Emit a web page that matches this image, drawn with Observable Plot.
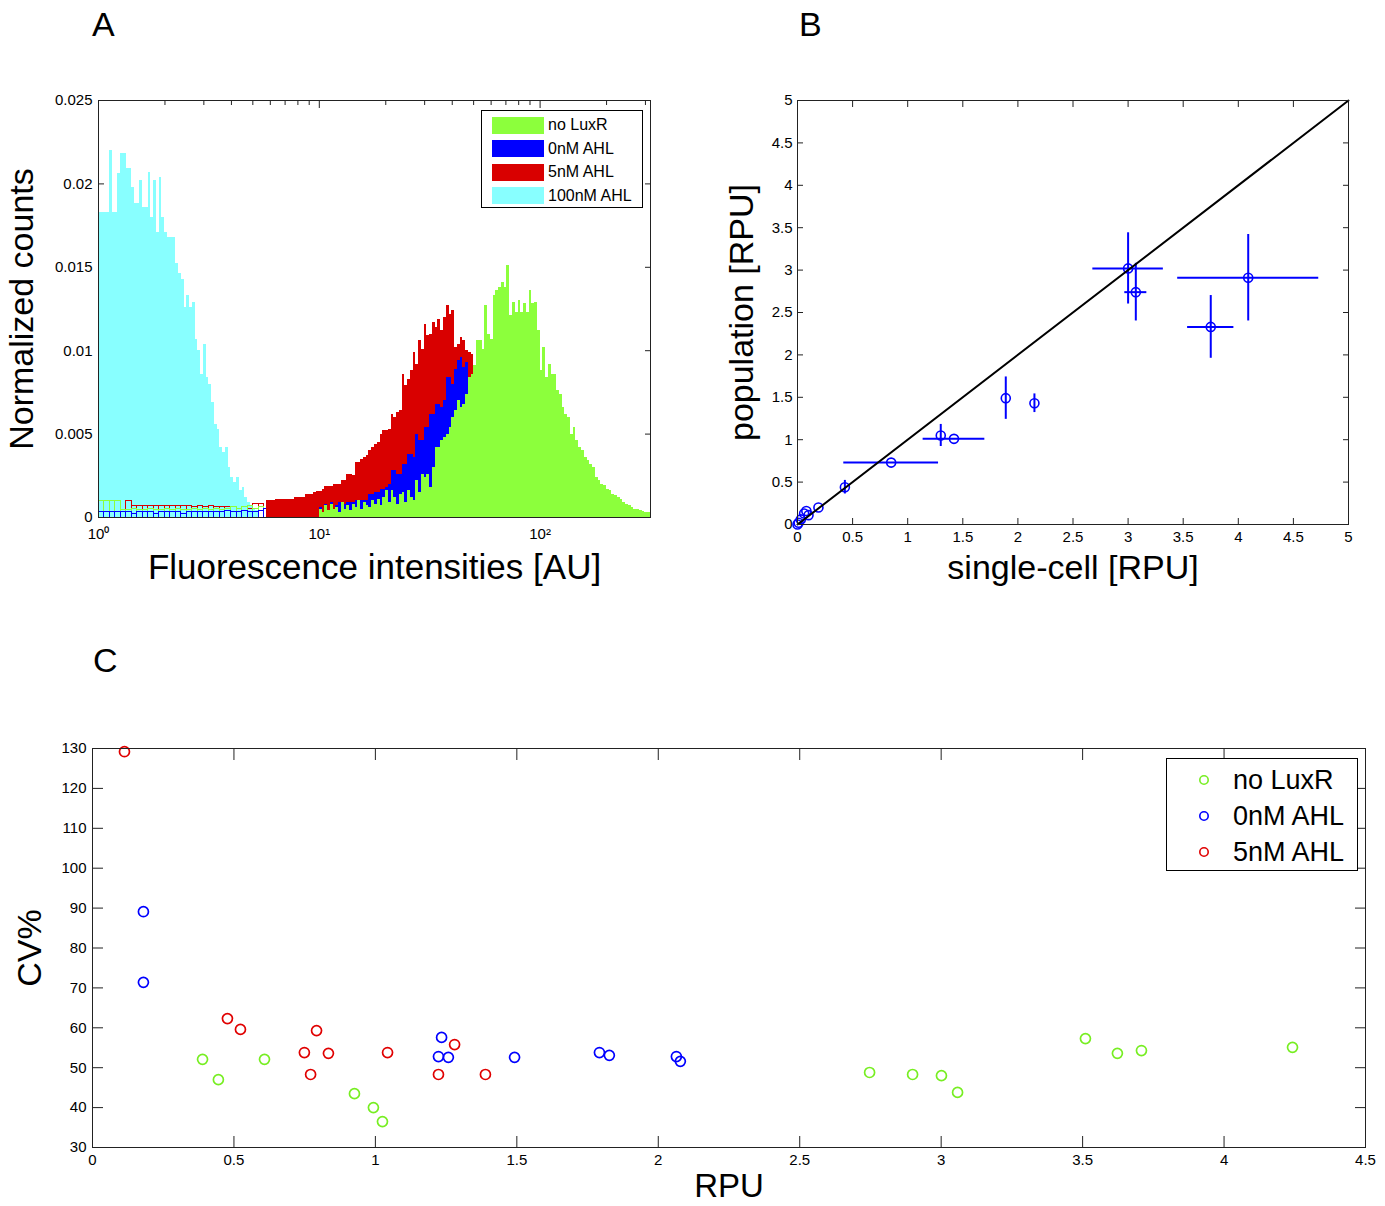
<!DOCTYPE html>
<html>
<head>
<meta charset="utf-8">
<script src="https://cdn.jsdelivr.net/npm/d3@7"></script>
<script src="https://cdn.jsdelivr.net/npm/@observablehq/plot@0.6"></script>
<style>
  body { margin: 0; background: #fff; }
  #page { position: relative; width: 1385px; height: 1206px; font-family: "Liberation Sans", Arial, Helvetica, sans-serif; color: #000; overflow: hidden; }
  .letter { position: absolute; font-size: 34px; line-height: 1; }
  .legend { position: absolute; border: 1px solid #000; background: #fff; box-sizing: border-box; }
  .row { position: absolute; left: 0; display: flex; align-items: center; white-space: nowrap; }
</style>
</head>
<body>
<div id="page"></div>
<script>
// ---------------- DATA ----------------
// Panel A: histograms, heights in units of 0.001 (normalized counts), log10-spaced bins
const binStep = 0.0125;          // bin width in decades
const lowBinStep = 0.025;        // bin width of the sparse low-level bins
const cyanStartExp = 0;          // 100nM AHL
const cyanCounts = [18.3,18.3,18.3,18.3,22.0,18.3,18.3,20.6,21.8,21.8,20.9,20.9,19.8,18.8,18.8,20.2,18.6,18.6,20.7,18.0,20.2,17.1,20.4,18.0,17.1,16.8,16.8,16.8,15.2,14.6,14.25,12.6,13.3,12.6,12.9,10.7,10.0,8.6,10.4,8.4,8.0,6.9,5.6,5.3,4.2,3.9,4.2,3.0,2.4,2.1,2.4,1.6,1.8,1.2,0.9,0.7,0.5,0.4];
const redStartExp = 0.7625;      // 5nM AHL
const redCounts = [1.0,1.0,1.0,1.1,1.1,1.1,1.1,1.1,1.1,1.1,1.2,1.2,1.2,1.2,1.4,1.4,1.4,1.5,1.56,1.56,1.7,1.86,1.86,1.86,2.0,2.0,2.0,2.2,2.2,2.6,2.6,2.5,3.3,3.3,3.5,3.6,3.7,4.0,4.2,4.4,4.5,5.0,5.2,5.2,5.3,6.2,6.0,6.3,6.4,8.6,7.9,8.3,8.8,9.9,9.2,10.6,10.1,11.6,10.9,11.0,11.7,11.4,11.9,11.2,12.0,12.7,12.2,12.4,10.2,10.4,10.8,10.6,10.0,9.9,9.8];
const blueStartExp = 1.0;        // 0nM AHL
const blueCounts = [0.6,0.3,0.8,0.4,0.9,0.5,0.7,0.9,0.9,0.8,0.9,0.9,0.9,1.0,1.0,1.0,1.0,1.0,1.4,1.4,1.5,1.5,1.7,1.7,1.8,2.0,2.8,2.8,2.6,2.6,3.2,3.2,3.8,3.8,3.6,5.0,4.6,4.6,5.4,5.4,6.2,6.2,6.8,6.8,6.6,7.0,8.4,8.4,8.0,8.9,9.4,9.6,9.0,9.3];
const greenStartExp = 1.0;       // no LuxR
const greenCounts = [0.5,0.3,0.7,0.4,0.8,0.5,0.6,0.3,0.9,0.5,0.7,0.4,0.8,0.6,1.0,0.5,0.9,0.7,0.6,1.0,0.8,1.1,0.7,1.2,
  1.6,0.9,1.6,1.2,0.8,1.4,1.5,0.9,1.6,1.2,1.0,2.2,1.5,2.6,2.4,2.6,1.8,3.0,
  4.2,4.2,4.6,4.8,5.0,5.4,6.0,6.4,7.0,6.6,6.8,7.4,8.4,8.6,
  9.1,10.6,10.6,10.1,12.7,11.0,10.7,13.3,13.6,13.8,14.1,13.8,15.1,12.1,12.9,12.3,13.0,12.3,12.8,12.3,13.6,12.8,12.9,11.2,
  8.8,10.2,8.4,9.2,8.6,8.6,7.6,7.4,6.6,6.2,6.0,5.0,5.4,4.6,4.2,4.0,3.6,3.4,3.2,3.0,
  2.4,2.2,2.0,1.9,1.7,1.6,1.4,1.3,1.2,1.1,0.9,0.8,0.7,0.6,0.5,0.45,0.4,0.35,0.3,0.3];
// sparse low-level bins (drawn as outlines), starting at 10^0
const greenLow = [1.0,1.0,1.0,1.0,0.45,0.45,0.5,0.45,0.45,0.5,0.45,0.45,0.5,0.45,0.5,0.45,0.45,0.5,0.45,0.5,0.45,0.5,0.45,0.5,0.6,0.5,0.6,0.7,0.5,0.6,0.5,0.7,0.5,0.6,0.8,0.6,0.7,0.5,0.8,0.6];
const redLow = [0,0,0,0,0,1.0,0.7,0.7,0.7,0.7,0.7,0.7,0.7,0.7,0.7,0.7,0.7,0.6,0.7,0.6,0.7,0.6,0.6,0.6,0.6,0.5,0.6,0.5,0.8,0.8];
const blueLow = [0.3,0.3,0.3,0.3,0.3,0.3,0.2,0.3,0.3,0.3,0.2,0.3,0.3,0.3,0.3,0.2,0.3,0.3,0.3,0.3,0.3,0.3,0.3,0.4,0.3,0.3,0.4,0.3,0.3,0.4,0.5,0.4,0.6,0.5,0.4,0.6,0.5,0.7,0.5,0.6];

const yTicksA = [0, 0.005, 0.01, 0.015, 0.02, 0.025];
const yTickLabelsA = ["0", "0.005", "0.01", "0.015", "0.02", "0.025"];
const xMajorA = [1, 10, 100];
const xMajorLabelsA = ["10\u2070", "10\u00b9", "10\u00b2"];
const xMinorA = [2,3,4,5,6,7,8,9,20,30,40,50,60,70,80,90,200,300];
const legendA = ["no LuxR", "0nM AHL", "5nM AHL", "100nM AHL"];

// Panel B: single-cell vs population (RPU) with error bars
const bX  = [0.00, 0.01, 0.03, 0.06, 0.08, 0.10, 0.19, 0.43, 0.85, 1.30, 1.42, 1.89, 2.15, 3.00, 3.07, 3.75, 4.09];
const bY  = [0.00, 0.02, 0.06, 0.13, 0.16, 0.11, 0.20, 0.44, 0.73, 1.05, 1.01, 1.49, 1.43, 3.02, 2.74, 2.33, 2.91];
const bXe = [0, 0, 0, 0, 0, 0, 0, 0, 0.43, 0, 0.28, 0, 0, 0.32, 0.10, 0.21, 0.64];
const bYe = [0, 0, 0, 0, 0, 0, 0, 0.08, 0, 0.13, 0, 0.25, 0.11, 0.42, 0.34, 0.37, 0.51];
const ticksB = [0, 0.5, 1, 1.5, 2, 2.5, 3, 3.5, 4, 4.5, 5];
const tickLabelsB = ["0", "0.5", "1", "1.5", "2", "2.5", "3", "3.5", "4", "4.5", "5"];
const diagonal = [0, 5];

// Panel C: CV% vs RPU
const greenX = [0.389, 0.445, 0.608, 0.926, 0.993, 1.025, 2.747, 2.899, 3.001, 3.058, 3.510, 3.623, 3.708, 4.242];
const greenY = [52.1, 47.0, 52.1, 43.5, 40.0, 36.5, 48.8, 48.3, 48.0, 43.8, 57.3, 53.6, 54.3, 55.1];
const blueX  = [0.180, 0.180, 1.234, 1.223, 1.258, 1.492, 1.792, 1.827, 2.064, 2.078];
const blueY  = [89.1, 71.4, 57.6, 52.8, 52.6, 52.6, 53.8, 53.1, 52.8, 51.6];
const redX   = [0.113, 0.477, 0.523, 0.749, 0.792, 0.771, 0.834, 1.043, 1.223, 1.280, 1.389];
const redY   = [129.2, 62.3, 59.6, 53.8, 59.3, 48.3, 53.6, 53.8, 48.3, 55.8, 48.3];
const xTicksC = [0, 0.5, 1, 1.5, 2, 2.5, 3, 3.5, 4, 4.5];
const xTickLabelsC = ["0", "0.5", "1", "1.5", "2", "2.5", "3", "3.5", "4", "4.5"];
const yTicksC = [30, 40, 50, 60, 70, 80, 90, 100, 110, 120, 130];
const legendC = ["no LuxR", "0nM AHL", "5nM AHL"];

// ---------------- STYLE ----------------
const FONT = '"Liberation Sans", Arial, Helvetica, sans-serif';
const CYAN = "#88ffff", RED = "#d90000", BLUE = "#0000ff", GREEN = "#8cff3c";
const CGREEN = "#77ee22", CBLUE = "#0000ff", CRED = "#e00000";
const AXIS = "#222";
const baseStyle = {fontFamily: FONT, fontSize: "15px", background: "transparent", color: "#000", overflow: "visible"};

function toBins(values, startExp, step) {
  return values
    .map((v, i) => ({x1: 10 ** (startExp + i * step), x2: 10 ** (startExp + (i + 1) * step), y: v / 1000}))
    .filter(d => d.y > 0);
}
const fmt = (ticks, labels) => { const m = new Map(ticks.map((t, i) => [t, labels[i]])); return d => m.get(d); };
const blank = () => "";
function insideTicks(ticks, size, sides) {
  return sides.map(side => (side === "left" || side === "right")
    ? Plot.axisY(ticks, {anchor: side, tickSize: -size, tickFormat: blank, label: null, stroke: AXIS})
    : Plot.axisX(ticks, {anchor: side, tickSize: -size, tickFormat: blank, label: null, stroke: AXIS}));
}
function yTitle(text, dx, size) {
  return Plot.text([text], {frameAnchor: "left", dx, rotate: -90, fontSize: size, textAnchor: "middle", lineAnchor: "middle"});
}
function xTitle(text, dy, size) {
  return Plot.text([text], {frameAnchor: "bottom", dy, fontSize: size, textAnchor: "middle", lineAnchor: "middle"});
}

const page = document.getElementById("page");

// ---------------- PANEL A ----------------
const rectOpts = {x1: "x1", x2: "x2", y: "y", shapeRendering: "crispEdges"};
const plotA = Plot.plot({
  width: 692, height: 600,
  marginLeft: 98, marginRight: 42, marginTop: 100, marginBottom: 83,
  x: {type: "log", domain: [1, 10 ** 2.5]},
  y: {domain: [0, 0.025]},
  style: baseStyle,
  marks: [
    ...insideTicks(yTicksA, 6, ["left", "right"]),
    Plot.axisX(xMajorA, {anchor: "top", tickSize: -7, tickFormat: blank, label: null, stroke: AXIS}),
    Plot.axisX(xMinorA, {anchor: "top", tickSize: -4, tickFormat: blank, label: null, stroke: AXIS}),
    Plot.axisX(xMajorA, {anchor: "bottom", tickSize: -7, tickFormat: blank, label: null, stroke: AXIS}),
    Plot.rectY(toBins(cyanCounts, cyanStartExp, binStep), {...rectOpts, fill: CYAN}),
    Plot.rectY(toBins(redLow, 0, lowBinStep), {...rectOpts, fill: "none", stroke: RED, strokeWidth: 1}),
    Plot.rectY(toBins(greenLow, 0, lowBinStep), {...rectOpts, fill: "none", stroke: GREEN, strokeWidth: 1}),
    Plot.rectY(toBins(blueLow, 0, lowBinStep), {...rectOpts, fill: "none", stroke: BLUE, strokeWidth: 1}),
    Plot.rectY(toBins(redCounts, redStartExp, binStep), {...rectOpts, fill: RED}),
    Plot.rectY(toBins(blueCounts, blueStartExp, binStep), {...rectOpts, fill: BLUE}),
    Plot.rectY(toBins(greenCounts, greenStartExp, binStep), {...rectOpts, fill: GREEN}),
    Plot.frame({stroke: AXIS}),
    Plot.axisY(yTicksA, {anchor: "left", tickSize: 0, tickPadding: 6, tickFormat: fmt(yTicksA, yTickLabelsA), label: null}),
    Plot.axisX(xMajorA, {anchor: "bottom", tickSize: 0, tickPadding: 11, tickFormat: fmt(xMajorA, xMajorLabelsA), label: null}),
    xTitle("Fluorescence intensities [AU]", 50, 35),
    yTitle("Normalized counts", -76, 34)
  ]
});
plotA.style.position = "absolute"; plotA.style.left = "0px"; plotA.style.top = "0px";
page.appendChild(plotA);

// ---------------- PANEL B ----------------
const pointsB = bX.map((x, i) => ({x, y: bY[i], ex: bXe[i], ey: bYe[i]}));
const plotB = Plot.plot({
  width: 693, height: 600,
  marginLeft: 105, marginRight: 37, marginTop: 100, marginBottom: 76,
  x: {domain: [0, 5]},
  y: {domain: [0, 5]},
  style: baseStyle,
  marks: [
    ...insideTicks(ticksB, 6, ["left", "right", "top", "bottom"]),
    Plot.ruleY(pointsB.filter(d => d.ex > 0), {y: "y", x1: d => d.x - d.ex, x2: d => d.x + d.ex, stroke: BLUE, strokeWidth: 2}),
    Plot.ruleX(pointsB.filter(d => d.ey > 0), {x: "x", y1: d => d.y - d.ey, y2: d => d.y + d.ey, stroke: BLUE, strokeWidth: 2}),
    Plot.dot(pointsB, {x: "x", y: "y", r: 4.5, stroke: BLUE, strokeWidth: 1.6, fill: "none"}),
    Plot.line(diagonal, {x: d => d, y: d => d, stroke: "#000", strokeWidth: 2}),
    Plot.frame({stroke: AXIS}),
    Plot.axisY(ticksB, {anchor: "left", tickSize: 0, tickPadding: 5, tickFormat: fmt(ticksB, tickLabelsB), label: null}),
    Plot.axisX(ticksB, {anchor: "bottom", tickSize: 0, tickPadding: 7, tickFormat: fmt(ticksB, tickLabelsB), label: null}),
    xTitle("single-cell [RPU]", 44, 34),
    yTitle("population [RPU]", -55, 34)
  ]
});
plotB.style.position = "absolute"; plotB.style.left = "692px"; plotB.style.top = "0px";
page.appendChild(plotB);

// ---------------- PANEL C ----------------
const ptsC = [
  ...greenX.map((x, i) => ({x, y: greenY[i], s: legendC[0]})),
  ...blueX.map((x, i) => ({x, y: blueY[i], s: legendC[1]})),
  ...redX.map((x, i) => ({x, y: redY[i], s: legendC[2]}))
];
const plotC = Plot.plot({
  width: 1385, height: 606,
  marginLeft: 92, marginRight: 20, marginTop: 148, marginBottom: 59,
  x: {domain: [0, 4.5]},
  y: {domain: [30, 130]},
  color: {domain: legendC, range: [CGREEN, CBLUE, CRED]},
  style: baseStyle,
  marks: [
    ...insideTicks(yTicksC, 11, ["left", "right"]),
    ...insideTicks(xTicksC, 11, ["top", "bottom"]),
    Plot.dot(ptsC, {x: "x", y: "y", r: 5, stroke: "s", strokeWidth: 1.7, fill: "none"}),
    Plot.frame({stroke: AXIS}),
    Plot.axisY(yTicksC, {anchor: "left", tickSize: 0, tickPadding: 6, label: null}),
    Plot.axisX(xTicksC, {anchor: "bottom", tickSize: 0, tickPadding: 7, tickFormat: fmt(xTicksC, xTickLabelsC), label: null}),
    xTitle("RPU", 39, 33),
    yTitle("CV%", -62, 34)
  ]
});
plotC.style.position = "absolute"; plotC.style.left = "0px"; plotC.style.top = "600px";
page.appendChild(plotC);

// ---------------- LETTERS ----------------
[["A", 92, 7], ["B", 799, 7], ["C", 93, 643]].forEach(([t, l, tp]) => {
  const d = document.createElement("div");
  d.className = "letter"; d.textContent = t;
  d.style.left = l + "px"; d.style.top = tp + "px";
  page.appendChild(d);
});

// ---------------- LEGEND A ----------------
const legA = document.createElement("div");
legA.className = "legend";
Object.assign(legA.style, {left: "481px", top: "110px", width: "162px", height: "98px"});
const colorsA = [GREEN, BLUE, RED, CYAN];
legendA.forEach((name, i) => {
  const r = document.createElement("div");
  r.className = "row";
  Object.assign(r.style, {top: (5 + i * 23.6) + "px", height: "18px"});
  const sw = document.createElement("div");
  Object.assign(sw.style, {width: "52px", height: "17px", background: colorsA[i], marginLeft: "10px", marginRight: "4px"});
  const tx = document.createElement("span");
  tx.textContent = name; tx.style.fontSize = "16px";
  r.appendChild(sw); r.appendChild(tx);
  legA.appendChild(r);
});
page.appendChild(legA);

// ---------------- LEGEND C ----------------
const legC = document.createElement("div");
legC.className = "legend";
Object.assign(legC.style, {left: "1166px", top: "758px", width: "192px", height: "113px"});
const colorsC = [CGREEN, CBLUE, CRED];
legendC.forEach((name, i) => {
  const r = document.createElement("div");
  r.className = "row";
  Object.assign(r.style, {top: (4 + i * 36) + "px", height: "34px"});
  r.innerHTML = `<svg width="66" height="34" style="display:block"><circle cx="37" cy="17" r="4.2" fill="none" stroke="${colorsC[i]}" stroke-width="1.6"/></svg>`;
  const tx = document.createElement("span");
  tx.textContent = name; tx.style.fontSize = "27px";
  r.appendChild(tx);
  legC.appendChild(r);
});
page.appendChild(legC);
</script>
</body>
</html>
